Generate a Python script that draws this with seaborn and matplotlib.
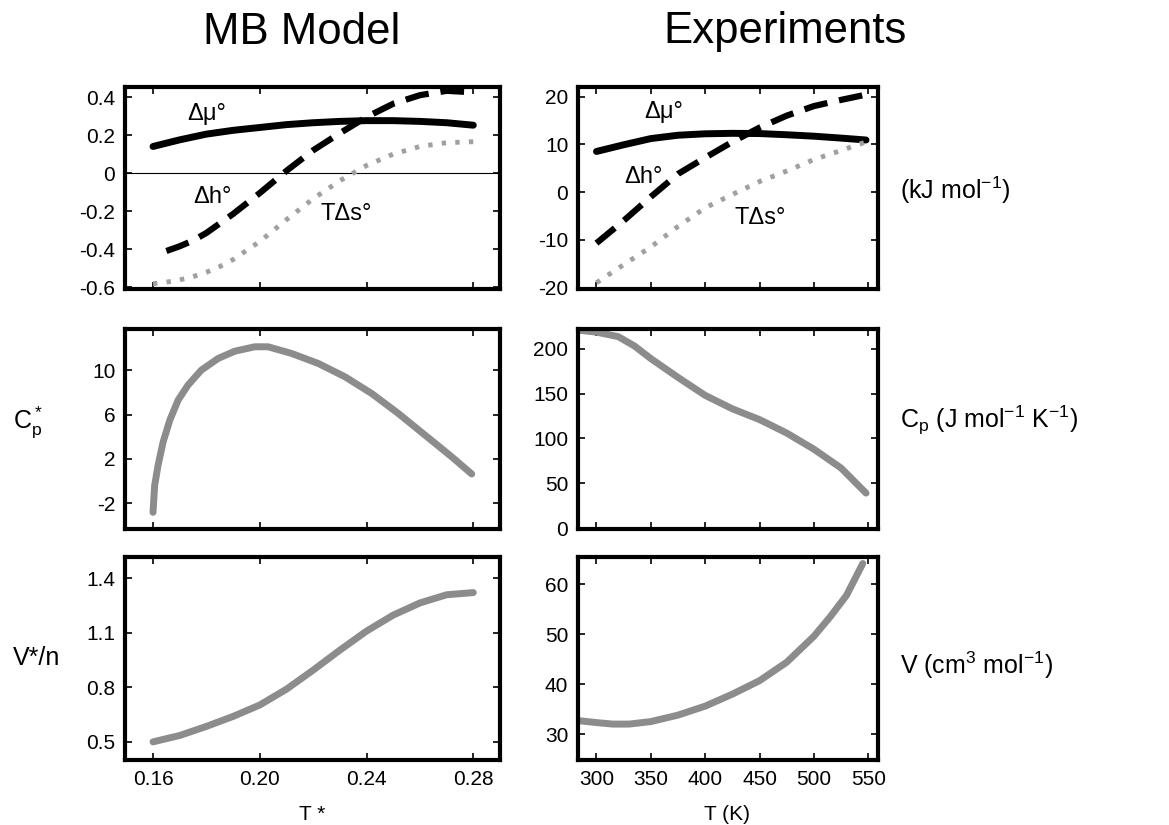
import matplotlib
matplotlib.use("Agg")
import matplotlib.pyplot as plt
import seaborn as sns
from matplotlib.ticker import FixedLocator, FixedFormatter

# MB model (reduced units)
mb_T = [0.16, 0.17, 0.18, 0.19, 0.20, 0.21, 0.22, 0.23, 0.24, 0.25, 0.26, 0.27, 0.28]
mb_dmu = [0.14, 0.175, 0.205, 0.225, 0.24, 0.255, 0.265, 0.272, 0.276, 0.276, 0.272, 0.265, 0.252]
mb_T_dh = [0.165, 0.17, 0.175, 0.18, 0.19, 0.20, 0.21, 0.22, 0.23, 0.24, 0.25, 0.26, 0.27, 0.28]
mb_dh = [-0.41, -0.385, -0.355, -0.315, -0.215, -0.105, 0.012, 0.12, 0.21, 0.295, 0.365, 0.41, 0.433, 0.425]
mb_T_ds = [0.16, 0.165, 0.17, 0.175, 0.18, 0.185, 0.19, 0.20, 0.21, 0.22, 0.23, 0.24, 0.25, 0.26, 0.27, 0.28]
mb_tds = [-0.582, -0.574, -0.562, -0.545, -0.522, -0.492, -0.455, -0.36, -0.245, -0.135,
          -0.04, 0.04, 0.10, 0.14, 0.16, 0.165]

mb_T_cp = [0.16, 0.1606, 0.1619, 0.1638, 0.1663, 0.1694, 0.1731, 0.1781, 0.1844, 0.1906,
           0.1981, 0.2031, 0.2119, 0.2219, 0.2319, 0.2419, 0.2519, 0.2619, 0.2719, 0.2794]
mb_cp = [-2.8, -0.4, 1.45, 3.55, 5.5, 7.3, 8.65, 10.0, 11.05, 11.7,
         12.1, 12.1, 11.5, 10.6, 9.4, 7.9, 6.1, 4.15, 2.2, 0.65]

mb_T_v = [0.16, 0.17, 0.18, 0.19, 0.20, 0.21, 0.22, 0.23, 0.24, 0.25, 0.26, 0.27, 0.28]
mb_v = [0.50, 0.535, 0.585, 0.64, 0.703, 0.79, 0.895, 1.005, 1.11, 1.198, 1.265, 1.31, 1.322]

# experiments (K)
ex_T = [300, 325, 350, 375, 400, 425, 450, 475, 500, 525, 548]
ex_dmu = [8.5, 9.9, 11.2, 11.9, 12.2, 12.3, 12.25, 12.0, 11.7, 11.3, 10.9]
ex_dh = [-10.7, -6.0, -1.0, 3.8, 7.2, 10.5, 13.5, 16.0, 18.0, 19.3, 20.4]
ex_tds = [-19.0, -15.2, -11.5, -7.2, -3.3, -0.5, 2.2, 4.4, 6.8, 8.7, 10.5]

ex_T_cp = [285, 300, 320, 335, 350, 375, 400, 425, 450, 475, 500, 525, 548]
ex_cp = [220.5, 218.5, 213.5, 203, 189, 168, 148, 133, 121, 106, 88, 67, 39]

ex_T_v = [283, 300, 315, 330, 350, 375, 400, 425, 450, 475, 500, 515, 530, 545]
ex_v = [32.7, 32.3, 32.0, 32.0, 32.5, 33.8, 35.6, 38.0, 40.7, 44.4, 49.6, 53.5, 57.8, 64.2]

sns.set_style("ticks")
plt.rcParams["font.family"] = ["Liberation Sans", "DejaVu Sans"]
plt.rcParams["mathtext.fontset"] = "custom"
plt.rcParams["mathtext.rm"] = "Liberation Sans"
plt.rcParams["mathtext.it"] = "Liberation Sans"
plt.rcParams["text.color"] = "black"
plt.rcParams["axes.edgecolor"] = "black"
plt.rcParams["axes.linewidth"] = 3

fig = plt.figure(figsize=(11.69, 8.25), dpi=100)
lx, lw_ = 125 / 1169, 375 / 1169
rx, rw = 578 / 1169, 300 / 1169
rows = [(1 - 289 / 825, 202 / 825), (1 - 529 / 825, 200 / 825), (1 - 760 / 825, 203 / 825)]
axes = []
for b, h in rows:
    axes.append((fig.add_axes([lx, b, lw_, h]), fig.add_axes([rx, b, rw, h])))

grey = "#8c8c8c"
dotgrey = "#a0a0a0"
dash = (0, (3.8, 1.9))
dots = (0, (0.9, 1.9))

def style(ax, xt, yt, ylabels, xlabels=None):
    ax.xaxis.set_major_locator(FixedLocator(xt))
    ax.yaxis.set_major_locator(FixedLocator(yt))
    ax.yaxis.set_major_formatter(FixedFormatter(ylabels))
    if xlabels is None:
        ax.set_xticklabels([])
    else:
        ax.xaxis.set_major_formatter(FixedFormatter(xlabels))
    ax.tick_params(direction="in", length=5, width=1.2, top=True, right=True,
                   labelsize=15, pad=7, colors="black")
    ax.set_xlabel("")
    ax.set_ylabel("")
    for s in ax.spines.values():
        s.set_visible(True)
        s.set_linewidth(3)
        s.set_color("black")

mb_xt = [0.16, 0.20, 0.24, 0.28]
ex_xt = [300, 350, 400, 450, 500, 550]

# top left
ax = axes[0][0]
ax.axhline(0, color="black", lw=0.8)
sns.lineplot(x=mb_T, y=mb_dmu, ax=ax, color="black", lw=5)
sns.lineplot(x=mb_T_dh, y=mb_dh, ax=ax, color="black", lw=4.5, linestyle=dash)
sns.lineplot(x=mb_T_ds, y=mb_tds, ax=ax, color=dotgrey, lw=3.5, linestyle=dots)
ax.set_xlim(0.1495, 0.29)
ax.set_ylim(-0.61, 0.453)
style(ax, mb_xt, [-0.6, -0.4, -0.2, 0, 0.2, 0.4], ["-0.6", "-0.4", "-0.2", "0", "0.2", "0.4"])
ax.text(0.1802, 0.312, "Δμ°", fontsize=17, ha="center", va="center")
ax.text(0.1824, -0.125, "Δh°", fontsize=17, ha="center", va="center")
ax.text(0.2325, -0.214, "TΔs°", fontsize=17, ha="center", va="center")

# top right
ax = axes[0][1]
sns.lineplot(x=ex_T, y=ex_dmu, ax=ax, color="black", lw=5)
sns.lineplot(x=ex_T, y=ex_dh, ax=ax, color="black", lw=4.5, linestyle=dash)
sns.lineplot(x=ex_T, y=ex_tds, ax=ax, color=dotgrey, lw=3.5, linestyle=dots)
ax.set_xlim(283, 559)
ax.set_ylim(-20.3, 22)
style(ax, ex_xt, [-20, -10, 0, 10, 20], ["-20", "-10", "0", "10", "20"])
ax.text(361.5, 16.8, "Δμ°", fontsize=17, ha="center", va="center")
ax.text(343, 3.1, "Δh°", fontsize=17, ha="center", va="center")
ax.text(450.5, -5.5, "TΔs°", fontsize=17, ha="center", va="center")

# middle left
ax = axes[1][0]
sns.lineplot(x=mb_T_cp, y=mb_cp, ax=ax, color=grey, lw=5)
ax.set_xlim(0.1495, 0.29)
ax.set_ylim(-4.3, 13.7)
style(ax, mb_xt, [-2, 2, 6, 10], ["-2", "2", "6", "10"])

# middle right
ax = axes[1][1]
sns.lineplot(x=ex_T_cp, y=ex_cp, ax=ax, color=grey, lw=5)
ax.set_xlim(283, 559)
ax.set_ylim(-1, 222)
style(ax, ex_xt, [0, 50, 100, 150, 200], ["0", "50", "100", "150", "200"])

# bottom left
ax = axes[2][0]
sns.lineplot(x=mb_T_v, y=mb_v, ax=ax, color=grey, lw=5)
ax.set_xlim(0.1495, 0.29)
ax.set_ylim(0.40, 1.518)
style(ax, mb_xt, [0.5, 0.8, 1.1, 1.4], ["0.5", "0.8", "1.1", "1.4"],
      ["0.16", "0.20", "0.24", "0.28"])

# bottom right
ax = axes[2][1]
sns.lineplot(x=ex_T_v, y=ex_v, ax=ax, color=grey, lw=5)
ax.set_xlim(283, 559)
ax.set_ylim(24.8, 65.5)
style(ax, ex_xt, [30, 40, 50, 60], ["30", "40", "50", "60"],
      ["300", "350", "400", "450", "500", "550"])

# titles and labels
fig.text(302 / 1169, 1 - 32 / 825, "MB Model", fontsize=31.5, ha="center", va="center")
fig.text(785 / 1169, 1 - 32 / 825, "Experiments", fontsize=31.5, ha="center", va="center")
fig.text(312 / 1169, 1 - 814 / 825, "T *", fontsize=15, ha="center", va="center")
fig.text(727 / 1169, 1 - 814 / 825, "T (K)", fontsize=15, ha="center", va="center")
fig.text(13 / 1169, 1 - 422 / 825, r"C$\mathregular{_p^*}$", fontsize=18, ha="left", va="center")
fig.text(13 / 1169, 1 - 658 / 825, "V*/n", fontsize=18, ha="left", va="center")
fig.text(900 / 1169, 1 - 190 / 825, r"(kJ mol$\mathregular{^{-1}}$)", fontsize=18, ha="left", va="center")
fig.text(900 / 1169, 1 - 420 / 825, r"C$\mathregular{_p}$ (J mol$\mathregular{^{-1}}$ K$\mathregular{^{-1}}$)",
         fontsize=18, ha="left", va="center")
fig.text(900 / 1169, 1 - 665 / 825, r"V (cm$\mathregular{^3}$ mol$\mathregular{^{-1}}$)", fontsize=18,
         ha="left", va="center")

fig.savefig("out.png", dpi=100)
